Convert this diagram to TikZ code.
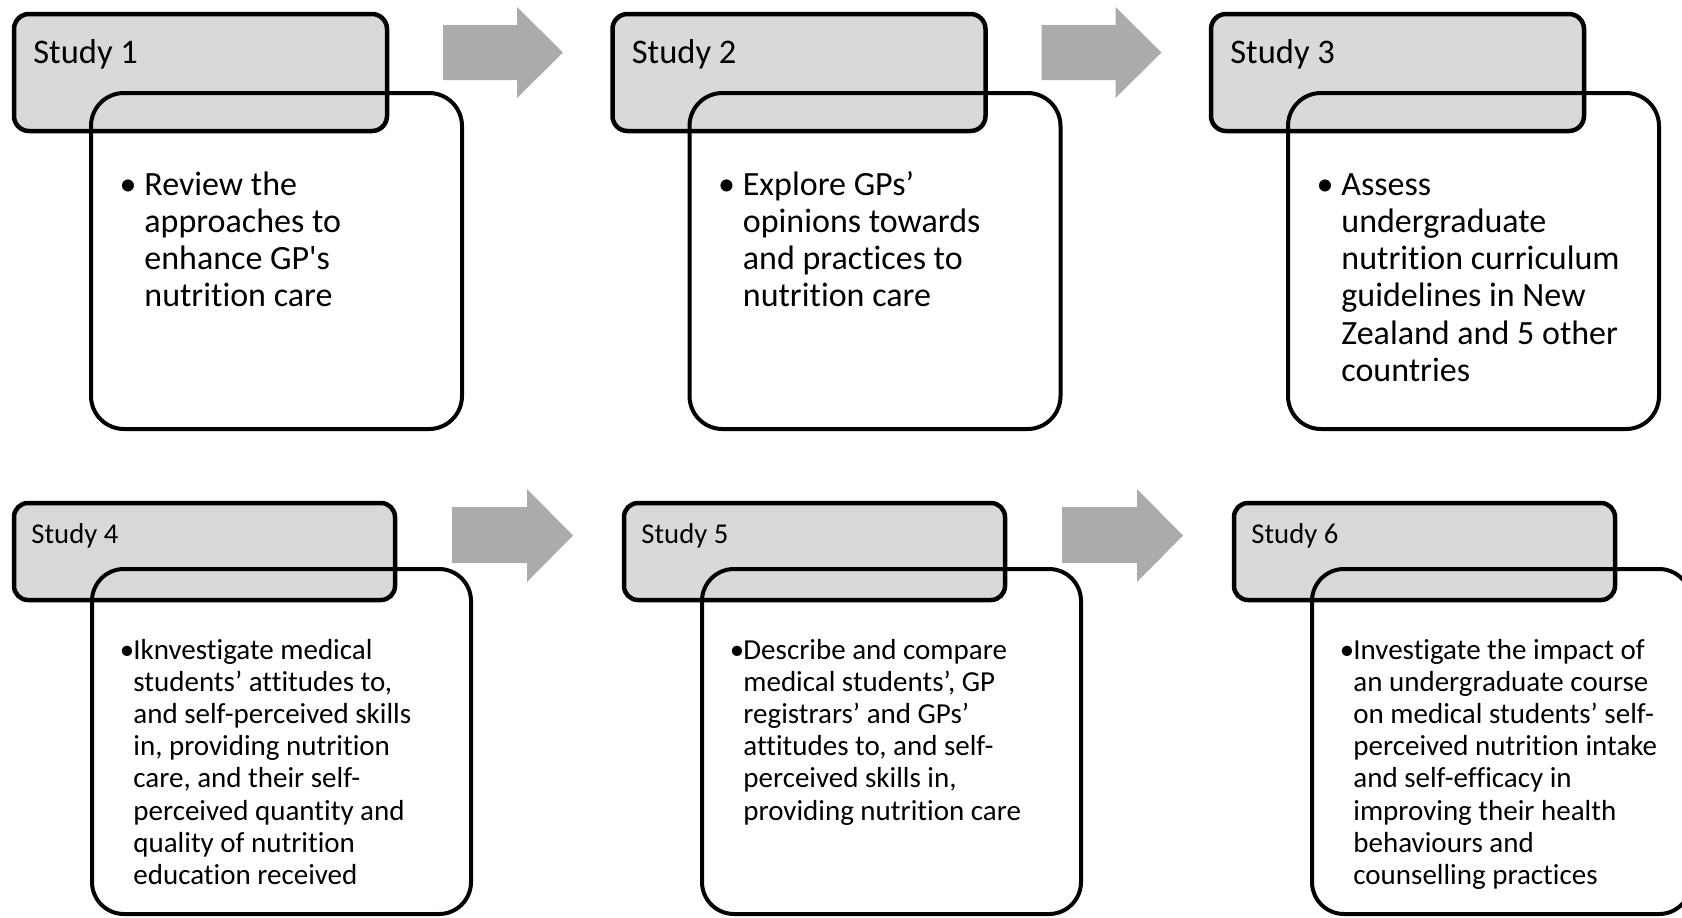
\documentclass[tikz,border=0pt]{standalone}
\usepackage{fontspec}
\setmainfont{Carlito}[Ligatures={NoCommon,TeX}]
\definecolor{hdrfill}{HTML}{D9D9D9}
\definecolor{arrowfill}{HTML}{ABABAB}
\tikzset{
  hdrA/.style={draw=black, fill=hdrfill, line width=2.25pt, rounded corners=7.5pt,
    minimum width=186.5pt, minimum height=58.5pt, inner sep=0pt},
  hdrB/.style={draw=black, fill=hdrfill, line width=2.25pt, rounded corners=7pt,
    minimum width=190.5pt, minimum height=48.5pt, inner sep=0pt},
  bodyA/.style={draw=black, line width=2pt, rounded corners=16.5pt,
    minimum width=185.5pt, minimum height=168pt, inner sep=0pt},
  bodyB/.style={draw=black, line width=2pt, rounded corners=16pt,
    minimum width=189.5pt, minimum height=172.5pt, inner sep=0pt},
  titleA/.style={anchor=base west, inner sep=0pt, font=\fontsize{17.25pt}{20pt}\selectfont},
  titleB/.style={anchor=base west, inner sep=0pt, font=\fontsize{14.35pt}{17pt}\selectfont},
  textA/.style={anchor=base west, inner sep=0pt, font=\fontsize{17pt}{18.65pt}\selectfont},
  textB/.style={anchor=base west, inner sep=0pt, font=\fontsize{14.5pt}{16.1pt}\selectfont},
  bulA/.style={anchor=base, inner sep=0pt, font=\fontsize{17pt}{18.65pt}\selectfont},
  bulB/.style={anchor=base, inner sep=0pt, font=\fontsize{14.5pt}{16.1pt}\selectfont},
  blockarrow/.style={fill=arrowfill, draw=none},
}
\begin{document}
\begin{tikzpicture}[x=0.5pt, y=-0.5pt]
\useasboundingbox (0,0) rectangle (1682,917);
\begin{scope}
\clip (0,0) rectangle (1682,917);

% ---------- Row 1 ----------
\node[hdrA] (h1) at (200.5,72.5) {};
\node[bodyA] (b1) at (276.5,261) {};
\node[titleA] (s1) at (33,63) {Study 1};
\node[bulA] (p1) at (128,195) {•};
\node[textA] (t1) at (144,195) {\begin{tabular}[t]{@{}l@{}}Review the\\approaches to\\enhance GP\textquotesingle s\\nutrition care\end{tabular}};

\node[hdrA] (h2) at (799,72.5) {};
\node[bodyA] (b2) at (875,261) {};
\node[titleA] (s2) at (631.5,63) {Study 2};
\node[bulA] (p2) at (726.5,195) {•};
\node[textA] (t2) at (742.5,195) {\begin{tabular}[t]{@{}l@{}}Explore GPs’\\opinions towards\\and practices to\\nutrition care\end{tabular}};

\node[hdrA] (h3) at (1397.5,72.5) {};
\node[bodyA] (b3) at (1473.5,261) {};
\node[titleA] (s3) at (1230,63) {Study 3};
\node[bulA] (p3) at (1325,195) {•};
\node[textA] (t3) at (1341,195) {\begin{tabular}[t]{@{}l@{}}Assess\\undergraduate\\nutrition curriculum\\guidelines in New\\Zealand and 5 other\\countries\end{tabular}};

\fill[blockarrow] (443,25) -- (517,25) -- (517,7) -- (563,52.5) -- (517,98) -- (517,80) -- (443,80) -- cycle;
\fill[blockarrow] (1041.5,25) -- (1115.5,25) -- (1115.5,7) -- (1161.5,52.5) -- (1115.5,98) -- (1115.5,80) -- (1041.5,80) -- cycle;

% ---------- Row 2 ----------
\node[hdrB] (h4) at (204.5,551.5) {};
\node[bodyB] (b4) at (281.5,741.5) {};
\node[titleB] (s4) at (31,543) {Study 4};
\node[bulB] (p4) at (127,659) {•};
\node[textB] (t4) at (133,659) {\begin{tabular}[t]{@{}l@{}}Iknvestigate medical\\students’ attitudes to,\\and self-perceived skills\\in, providing nutrition\\care, and their self-\\perceived quantity and\\quality of nutrition\\education received\end{tabular}};

\node[hdrB] (h5) at (814.5,551.5) {};
\node[bodyB] (b5) at (891.5,741.5) {};
\node[titleB] (s5) at (641,543) {Study 5};
\node[bulB] (p5) at (737,659) {•};
\node[textB] (t5) at (743,659) {\begin{tabular}[t]{@{}l@{}}Describe and compare\\medical students’, GP\\registrars’ and GPs’\\attitudes to, and self-\\perceived skills in,\\providing nutrition care\end{tabular}};

\node[hdrB] (h6) at (1424.5,551.5) {};
\node[bodyB] (b6) at (1501.5,741.5) {};
\node[titleB] (s6) at (1251,543) {Study 6};
\node[bulB] (p6) at (1347,659) {•};
\node[textB] (t6) at (1353,659) {\begin{tabular}[t]{@{}l@{}}Investigate the impact of\\an undergraduate course\\on medical students’ self-\\perceived nutrition intake\\and self-efficacy in\\improving their health\\behaviours and\\counselling practices\end{tabular}};

\fill[blockarrow] (452,507) -- (527,507) -- (527,489) -- (573,535.5) -- (527,582) -- (527,563) -- (452,563) -- cycle;
\fill[blockarrow] (1062,507) -- (1137,507) -- (1137,489) -- (1183,535.5) -- (1137,582) -- (1137,563) -- (1062,563) -- cycle;
\end{scope}
\end{tikzpicture}
\end{document}
